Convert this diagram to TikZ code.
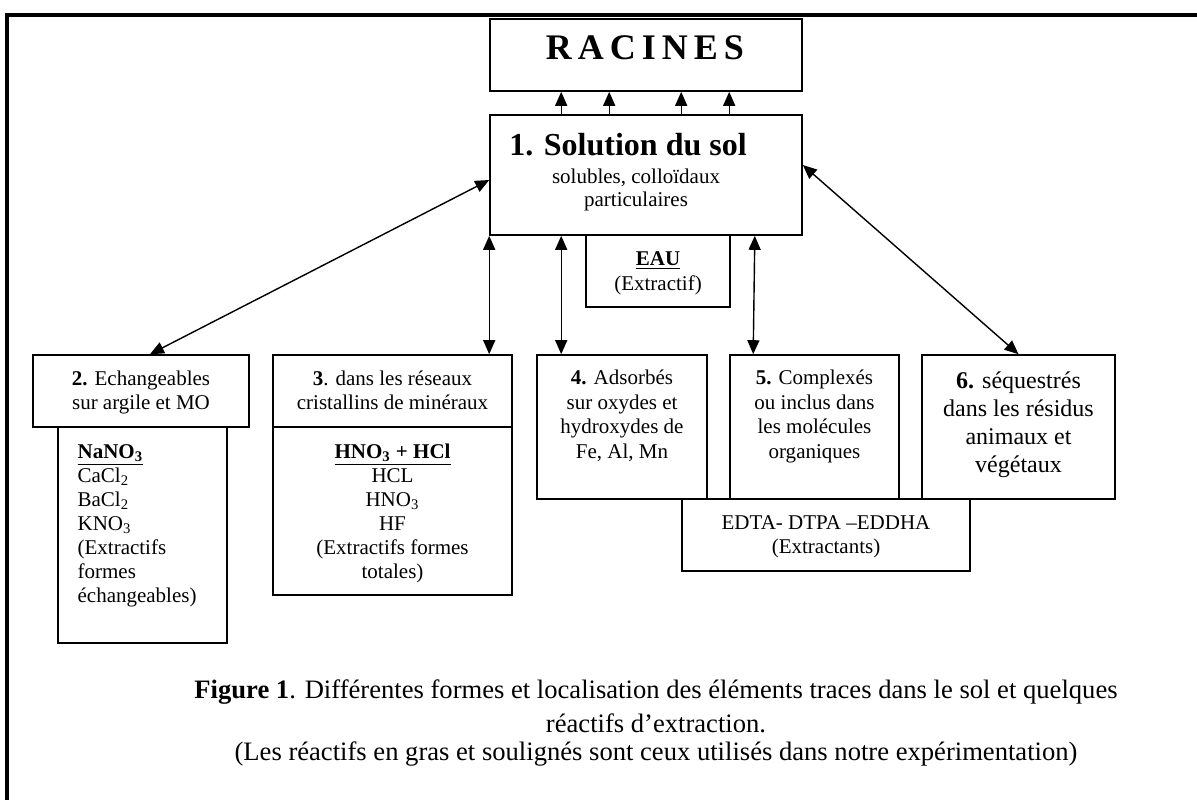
\documentclass[tikz,border=0pt]{standalone}
\usepackage{fontspec}
\setmainfont{Liberation Serif}
\usetikzlibrary{arrows.meta,positioning,fit}

\begin{document}
\begin{tikzpicture}[x=0.5pt,y=-0.5pt,
                    >={Triangle[length=7pt,width=6pt]},
                    bx/.style={draw,line width=0.8pt,inner sep=0pt},
                    txt/.style={align=center,inner sep=0pt,anchor=base,font=\fontsize{10.5}{12.25}\selectfont},
                    captxt/.style={inner sep=0pt,anchor=base,font=\fontsize{13.3}{15}\selectfont},
                    arr/.style={->,line width=0.7pt},
                    dbl/.style={<->,line width=0.7pt}]
                    \useasboundingbox (0,0) rectangle (1197,800);
                    \draw[line width=1.6pt] (1197,15) -- (7,15) -- (7,800);
                    \node[bx,fit={(490,19) (802,91)}] (rac) {};
                    \node[bx,fit={(490,115) (802,235)}] (sol) {};
                    \node[bx,fit={(586,235) (730,307)}] (eau) {};
                    \node[bx,fit={(33,355) (249,427)}] (ech) {};
                    \node[bx,fit={(58,427) (227,643)}] (echx) {};
                    \node[bx,fit={(273,355) (512,427)}] (res) {};
                    \node[bx,fit={(273,427) (512,595)}] (resx) {};
                    \node[bx,fit={(537,355) (707,499)}] (ads) {};
                    \node[bx,fit={(730,355) (899,499)}] (cpx) {};
                    \node[bx,fit={(922,355) (1115,499)}] (seq) {};
                    \node[bx,fit={(682,499) (970,571)}] (edta) {};
                    \node[txt,font=\fontsize{18}{20}\selectfont\bfseries] (trac) at ([xshift=-0.5pt,yshift=-20.5pt]rac.north) {R\,A\,C\,I\,N\,E\,S};
                    \node[txt,font=\fontsize{16}{18}\selectfont\bfseries] (tsol) at ([xshift=-9pt,yshift=-20.5pt]sol.north) {1. Solution du sol};
                    \node[txt,font=\fontsize{10.5}{11.5}\selectfont] (tsol2) at ([xshift=-5pt,yshift=-46pt]sol.north) {solubles, colloïdaux\\particulaires};
                    \node[txt,font=\fontsize{10.5}{12.5}\selectfont] (teau) at ([yshift=-28pt]eau.north) {\underline{\textbf{EAU}}\\(Extractif)};
                    \node[txt,font=\fontsize{10.5}{12}\selectfont] (tech) at ([yshift=-27.5pt]ech.north) {\textbf{2.} Echangeables\\sur argile et MO};
                    \node[txt,align=left,anchor=base west,font=\fontsize{10.5}{12}\selectfont] (techx) at ([xshift=10pt,yshift=-88pt]echx.north west) {\underline{\textbf{NaNO\textsubscript{3}}}\\CaCl\textsubscript{2}\\BaCl\textsubscript{2}\\KNO\textsubscript{3}\\(Extractifs\\formes\\échangeables)};
                    \node[txt,font=\fontsize{10.5}{12}\selectfont] (tres) at ([yshift=-27.5pt]res.north) {\textbf{3}. dans les réseaux\\cristallins de minéraux};
                    \node[txt,font=\fontsize{10.5}{12}\selectfont] (tresx) at ([yshift=-76pt]resx.north) {\underline{\textbf{HNO\textsubscript{3} + HCl}}\\HCL\\HNO\textsubscript{3}\\HF\\(Extractifs formes\\totales)};
                    \node[txt] (tads) at ([yshift=-52pt]ads.north) {\textbf{4.} Adsorbés\\sur oxydes et\\hydroxydes de\\Fe, Al, Mn};
                    \node[txt] (tcpx) at ([yshift=-52pt]cpx.north) {\textbf{5.} Complexés\\ou inclus dans\\les molécules\\organiques};
                    \node[txt,font=\fontsize{12}{14}\selectfont] (tseq) at ([yshift=-59pt]seq.north) {\textbf{6.} séquestrés\\dans les résidus\\animaux et\\végétaux};
                    \node[txt,font=\fontsize{10.5}{12}\selectfont] (tedta) at ([yshift=-27.5pt]edta.north) {EDTA- DTPA –EDDHA\\(Extractants)};
                    \node[captxt] (cap) at (656,698) {\textbf{Figure 1}. Différentes formes et localisation des éléments traces dans le sol et quelques};
                    \node[captxt] (cap2) at ([yshift=-17pt]cap.base) {réactifs d’extraction.};
                    \node[captxt] (cap3) at ([yshift=-14pt]cap2.base) {(Les réactifs en gras et soulignés sont ceux utilisés dans notre expérimentation)};
                    \foreach \dx in {36,60,96,120}
                        \draw[arr] ([xshift=\dx pt]sol.north west) -- ([xshift=\dx pt]rac.south west);
                    \draw[dbl] ([xshift=4.5pt]ech.north) -- ([yshift=-2.5pt]sol.west);
                    \draw[dbl] (sol.south west) -- (sol.south west |- res.north);
                    \draw[dbl] ([xshift=36pt]sol.south west) -- ([xshift=12.5pt]ads.north west);
                    \draw[dbl] ([xshift=-24pt]sol.south east) -- ([xshift=12pt]cpx.north west);
                    \draw[dbl] ([yshift=5pt]sol.east) -- (seq.north);
                \end{tikzpicture}
\end{document}
